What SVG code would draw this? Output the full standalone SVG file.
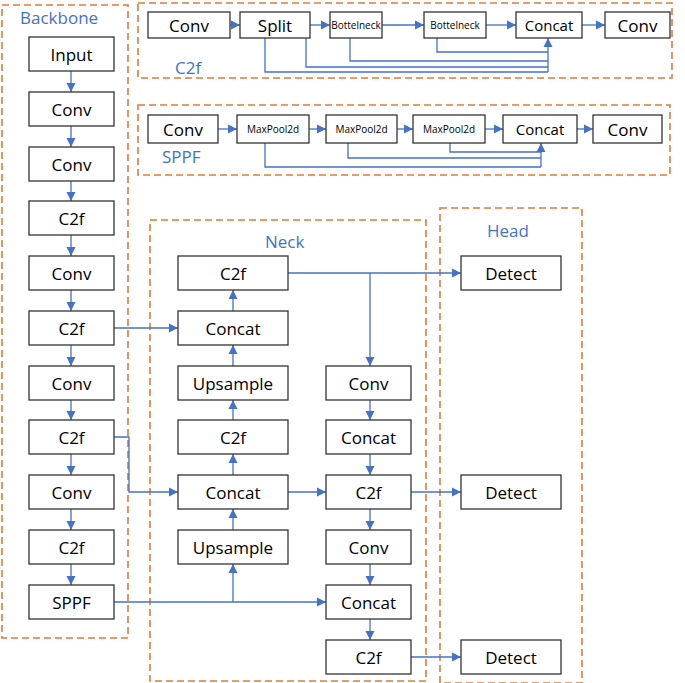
<svg xmlns="http://www.w3.org/2000/svg" width="685" height="683" viewBox="0 0 685 683">
<defs>
<marker id="a" viewBox="0 0 10 10" refX="10" refY="5" markerWidth="7" markerHeight="7" orient="auto"><path d="M0,0L10,5L0,10z" fill="#4472C4"/></marker>
<style>
.grp{fill:none;stroke:#E07B39;stroke-width:1.6;stroke-dasharray:7,4}
.n rect{fill:#fff;stroke:#333;stroke-width:1.3}
.n text{font-family:"Open Sans","Liberation Sans",sans-serif;font-size:17px;text-anchor:middle;dominant-baseline:central;fill:#000}
.s text{font-size:10px}
.lbl{font-family:"Open Sans","Liberation Sans",sans-serif;font-size:17px;fill:#4472C4}
.c path{fill:none;stroke:#4472C4;stroke-width:1.3}
.c .ar{marker-end:url(#a)}
</style>
</defs>
<rect class="grp" x="2" y="5" width="126" height="633"/>
<rect class="grp" x="150" y="220" width="276" height="461"/>
<rect class="grp" x="440" y="208" width="142" height="475"/>
<rect class="grp" x="138" y="3" width="534" height="75"/>
<rect class="grp" x="138" y="105" width="532" height="70"/>
<text class="lbl" x="20" y="24">Backbone</text>
<text class="lbl" x="265" y="248">Neck</text>
<text class="lbl" x="487" y="237">Head</text>
<text class="lbl" x="175" y="74">C2f</text>
<text class="lbl" x="162" y="163">SPPF</text>
<g class="c">
<path class="ar" d="M71,71V92"/><path class="ar" d="M71,126V147"/><path class="ar" d="M71,181V201"/><path class="ar" d="M71,235V256"/><path class="ar" d="M71,290V311"/><path class="ar" d="M71,345V366"/><path class="ar" d="M71,400V420"/><path class="ar" d="M71,454V475"/><path class="ar" d="M71,509V530"/><path class="ar" d="M71,564V585"/>
<path class="ar" d="M114,328H178"/>
<path class="ar" d="M114,437H129V492H178"/>
<path class="ar" d="M114,602H326"/>
<path class="ar" d="M233,602V564"/>
<path class="ar" d="M233,530V509"/><path class="ar" d="M233,475V454"/><path class="ar" d="M233,420V400"/><path class="ar" d="M233,366V345"/><path class="ar" d="M233,311V290"/>
<path class="ar" d="M288,273H461"/>
<path class="ar" d="M370,273V366"/>
<path class="ar" d="M370,400V420"/><path class="ar" d="M370,454V475"/><path class="ar" d="M370,509V530"/><path class="ar" d="M370,564V585"/><path class="ar" d="M370,619V640"/>
<path class="ar" d="M288,492H326"/>
<path class="ar" d="M411,492H461"/>
<path class="ar" d="M411,657H461"/>
<path class="ar" d="M230,25H240"/><path class="ar" d="M310,25H330"/><path class="ar" d="M382,25H424"/><path class="ar" d="M486,25H516"/><path class="ar" d="M582,25H605"/>
<path d="M265,38V72H548"/><path d="M306,25V67H548"/><path d="M350,38V61H548"/><path d="M437,38V52H548"/>
<path class="ar" d="M548,72V38"/>
<path class="ar" d="M218,129H237"/><path class="ar" d="M309,129H326"/><path class="ar" d="M397,129H413"/><path class="ar" d="M485,129H503"/><path class="ar" d="M577,129H593"/>
<path d="M265,143V167H541"/><path d="M348,143V158H541"/><path d="M450,143V152H541"/>
<path class="ar" d="M541,167V143"/>
</g>
<g id="b_input" class="n"><rect x="29" y="37" width="85" height="34"/><text x="71.5" y="54">Input</text></g>
<g id="b_conv1" class="n"><rect x="29" y="92" width="85" height="34"/><text x="71.5" y="109">Conv</text></g>
<g id="b_conv2" class="n"><rect x="29" y="147" width="85" height="34"/><text x="71.5" y="164">Conv</text></g>
<g id="b_c2f1" class="n"><rect x="29" y="201" width="85" height="34"/><text x="71.5" y="218">C2f</text></g>
<g id="b_conv3" class="n"><rect x="29" y="256" width="85" height="34"/><text x="71.5" y="273">Conv</text></g>
<g id="b_c2f2" class="n"><rect x="29" y="311" width="85" height="34"/><text x="71.5" y="328">C2f</text></g>
<g id="b_conv4" class="n"><rect x="29" y="366" width="85" height="34"/><text x="71.5" y="383">Conv</text></g>
<g id="b_c2f3" class="n"><rect x="29" y="420" width="85" height="34"/><text x="71.5" y="437">C2f</text></g>
<g id="b_conv5" class="n"><rect x="29" y="475" width="85" height="34"/><text x="71.5" y="492">Conv</text></g>
<g id="b_c2f4" class="n"><rect x="29" y="530" width="85" height="34"/><text x="71.5" y="547">C2f</text></g>
<g id="b_sppf" class="n"><rect x="29" y="585" width="85" height="34"/><text x="71.5" y="602">SPPF</text></g>
<g id="n_c2f_top" class="n"><rect x="178" y="256" width="110" height="34"/><text x="233" y="273">C2f</text></g>
<g id="n_concat1" class="n"><rect x="178" y="311" width="110" height="34"/><text x="233" y="328">Concat</text></g>
<g id="n_up1" class="n"><rect x="178" y="366" width="110" height="34"/><text x="233" y="383">Upsample</text></g>
<g id="n_c2f2" class="n"><rect x="178" y="420" width="110" height="34"/><text x="233" y="437">C2f</text></g>
<g id="n_concat2" class="n"><rect x="178" y="475" width="110" height="34"/><text x="233" y="492">Concat</text></g>
<g id="n_up2" class="n"><rect x="178" y="530" width="110" height="34"/><text x="233" y="547">Upsample</text></g>
<g id="n_conv_r1" class="n"><rect x="326" y="366" width="85" height="34"/><text x="368.5" y="383">Conv</text></g>
<g id="n_concat_r1" class="n"><rect x="326" y="420" width="85" height="34"/><text x="368.5" y="437">Concat</text></g>
<g id="n_c2f_r1" class="n"><rect x="326" y="475" width="85" height="34"/><text x="368.5" y="492">C2f</text></g>
<g id="n_conv_r2" class="n"><rect x="326" y="530" width="85" height="34"/><text x="368.5" y="547">Conv</text></g>
<g id="n_concat_r2" class="n"><rect x="326" y="585" width="85" height="34"/><text x="368.5" y="602">Concat</text></g>
<g id="n_c2f_r2" class="n"><rect x="326" y="640" width="85" height="34"/><text x="368.5" y="657">C2f</text></g>
<g id="h_d1" class="n"><rect x="461" y="256" width="100" height="34"/><text x="511" y="273">Detect</text></g>
<g id="h_d2" class="n"><rect x="461" y="475" width="100" height="34"/><text x="511" y="492">Detect</text></g>
<g id="h_d3" class="n"><rect x="461" y="640" width="100" height="34"/><text x="511" y="657">Detect</text></g>
<g id="c_conv1" class="n"><rect x="148" y="12" width="82" height="26"/><text x="189" y="25">Conv</text></g>
<g id="c_split" class="n"><rect x="240" y="12" width="70" height="26"/><text x="275" y="25">Split</text></g>
<g id="c_b1" class="n s"><rect x="330" y="12" width="52" height="26"/><text x="356" y="25">Bottelneck</text></g>
<g id="c_b2" class="n s"><rect x="424" y="12" width="62" height="26"/><text x="455" y="25">Bottelneck</text></g>
<g id="c_concat" class="n"><rect x="516" y="12" width="66" height="26"/><text x="549" y="25" style="font-size:15px">Concat</text></g>
<g id="c_conv2" class="n"><rect x="605" y="12" width="65" height="26"/><text x="637.5" y="25">Conv</text></g>
<g id="s_conv1" class="n"><rect x="148" y="115" width="70" height="28"/><text x="183" y="129">Conv</text></g>
<g id="s_mp1" class="n s"><rect x="237" y="115" width="72" height="28"/><text x="273" y="129">MaxPool2d</text></g>
<g id="s_mp2" class="n s"><rect x="326" y="115" width="71" height="28"/><text x="361.5" y="129">MaxPool2d</text></g>
<g id="s_mp3" class="n s"><rect x="413" y="115" width="72" height="28"/><text x="449" y="129">MaxPool2d</text></g>
<g id="s_concat" class="n"><rect x="503" y="115" width="74" height="28"/><text x="540" y="129" style="font-size:15px">Concat</text></g>
<g id="s_conv2" class="n"><rect x="593" y="115" width="69" height="28"/><text x="627.5" y="129">Conv</text></g>
</svg>
